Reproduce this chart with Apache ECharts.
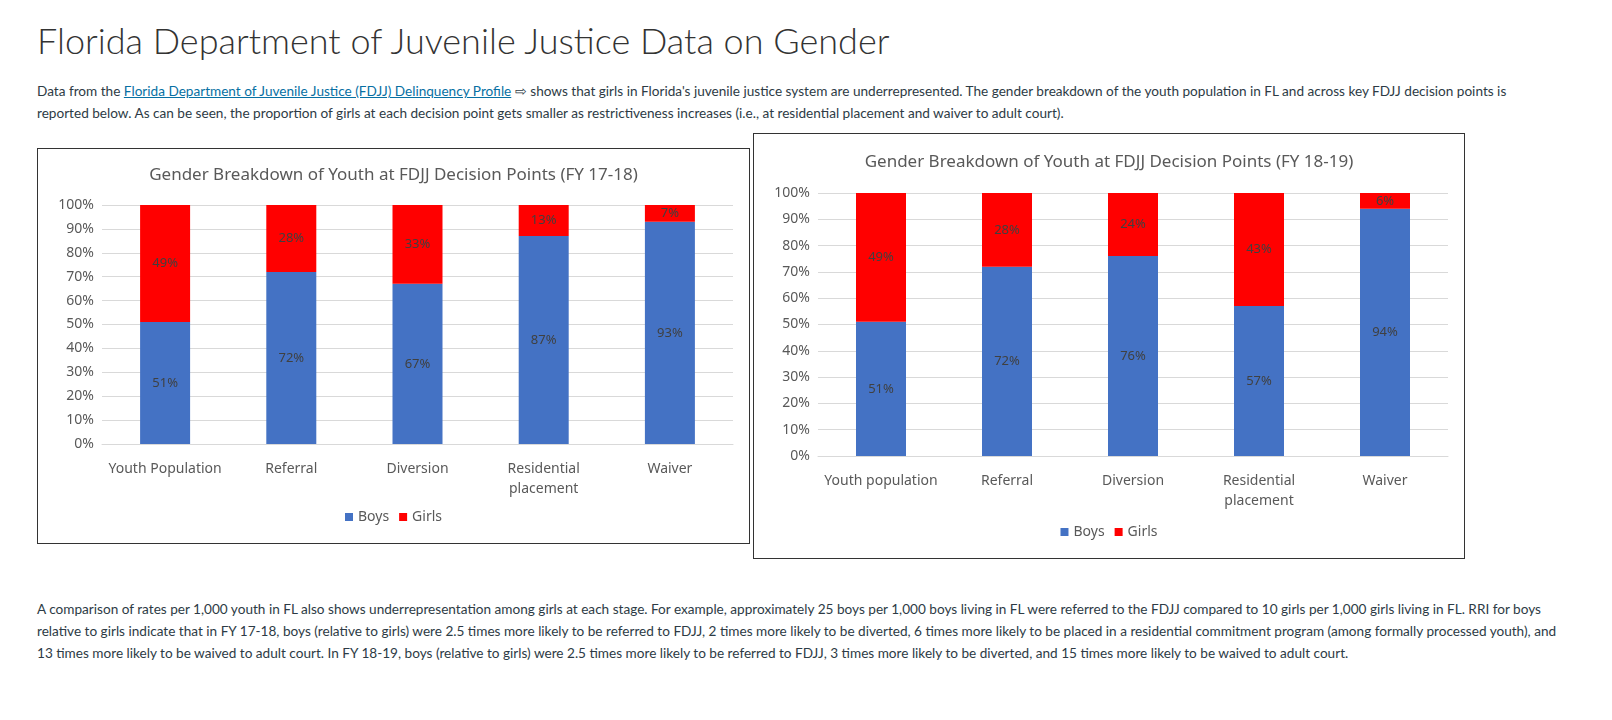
<!DOCTYPE html>
<html>
<head>
<meta charset="utf-8">
<script src="https://cdn.jsdelivr.net/npm/echarts@6/dist/echarts.min.js"></script>
<style>
  body { margin:0; width:1612px; height:720px; background:#fff; font-family: Lato, 'Open Sans', sans-serif; color:#2d3b45; position:relative; overflow:hidden; }
  h1 { position:absolute; left:37px; top:18px; margin:0; font-weight:300; font-size:36px; color:#333; }
  .p { position:absolute; left:37px; font-size:13.6px; line-height:22px; }
  .p a { color:#0770a3; }
  .box { position:absolute; border:1px solid #333; background:#fff; }
</style>
</head>
<body>
<h1>Florida Department of Juvenile Justice Data on Gender</h1>
<div class="p" style="top:80px;width:1510px">Data from the <a href="#">Florida Department of Juvenile Justice (FDJJ) Delinquency Profile</a> &#8680; shows that girls in Florida's juvenile justice system are underrepresented. The gender breakdown of the youth population in FL and across key FDJJ decision points is reported below. As can be seen, the proportion of girls at each decision point gets smaller as restrictiveness increases (i.e., at residential placement and waiver to adult court).</div>
<div id="c1" class="box" style="left:37px;top:148px;width:711px;height:394px"></div>
<div id="c2" class="box" style="left:753px;top:133px;width:710px;height:424px"></div>
<div class="p" style="top:598px;width:1520px">A comparison of rates per 1,000 youth in FL also shows underrepresentation among girls at each stage. For example, approximately 25 boys per 1,000 boys living in FL were referred to the FDJJ compared to 10 girls per 1,000 girls living in FL. RRI for boys relative to girls indicate that in FY 17-18, boys (relative to girls) were 2.5 times more likely to be referred to FDJJ, 2 times more likely to be diverted, 6 times more likely to be placed in a residential commitment program (among formally processed youth), and 13 times more likely to be waived to adult court. In FY 18-19, boys (relative to girls) were 2.5 times more likely to be referred to FDJJ, 3 times more likely to be diverted, and 15 times more likely to be waived to adult court.</div>
<script>
var categories1 = ['Youth Population', 'Referral', 'Diversion', 'Residential\nplacement', 'Waiver'];
var boys1 = [51, 72, 67, 87, 93];
var girls1 = [49, 28, 33, 13, 7];
var categories2 = ['Youth population', 'Referral', 'Diversion', 'Residential\nplacement', 'Waiver'];
var boys2 = [51, 72, 76, 57, 94];
var girls2 = [49, 28, 24, 43, 6];

var F = "'Noto Sans', 'Open Sans', sans-serif";
function makeOption(title, cats, boys, girls, g) {
  var lab = { show: true, position: 'inside', formatter: '{c}%', color: '#404040', fontSize: 13, fontFamily: F };
  return {
    animation: false,
    title: { text: title, left: 'center', top: g.titleTop, textStyle: { fontWeight: 'normal', fontSize: 17, color: '#595959', fontFamily: F } },
    legend: { bottom: g.legendBottom, itemWidth: 8, itemHeight: 8, itemGap: 10, icon: 'rect', textStyle: { fontSize: 14, color: '#595959', fontFamily: F } },
    grid: { left: g.left, right: g.right, top: g.top, bottom: g.bottom, containLabel: false },
    xAxis: { type: 'category', data: cats, axisTick: { show: false },
      axisLine: { lineStyle: { color: '#d9d9d9' } },
      axisLabel: { interval: 0, fontSize: 14, color: '#595959', fontFamily: F, margin: 15, lineHeight: 20 } },
    yAxis: { type: 'value', min: 0, max: 100, interval: 10,
      axisLabel: { formatter: '{value}%', fontSize: 14, color: '#595959', fontFamily: F },
      splitLine: { lineStyle: { color: '#d9d9d9' } } },
    series: [
      { name: 'Boys', type: 'bar', stack: 'a', data: boys, barWidth: 50, itemStyle: { color: '#4472C4' }, label: lab },
      { name: 'Girls', type: 'bar', stack: 'a', data: girls, barWidth: 50, itemStyle: { color: '#FF0000' }, label: lab }
    ]
  };
}
echarts.init(document.getElementById('c1')).setOption(makeOption(
  'Gender Breakdown of Youth at FDJJ Decision Points (FY 17-18)', categories1, boys1, girls1,
  { titleTop: 13, legendBottom: 14, left: 64, right: 16, top: 56, bottom: 99 }));
echarts.init(document.getElementById('c2')).setOption(makeOption(
  'Gender Breakdown of Youth at FDJJ Decision Points (FY 18-19)', categories2, boys2, girls2,
  { titleTop: 15, legendBottom: 14, left: 64, right: 16, top: 59, bottom: 102 }));
</script>
</body>
</html>
